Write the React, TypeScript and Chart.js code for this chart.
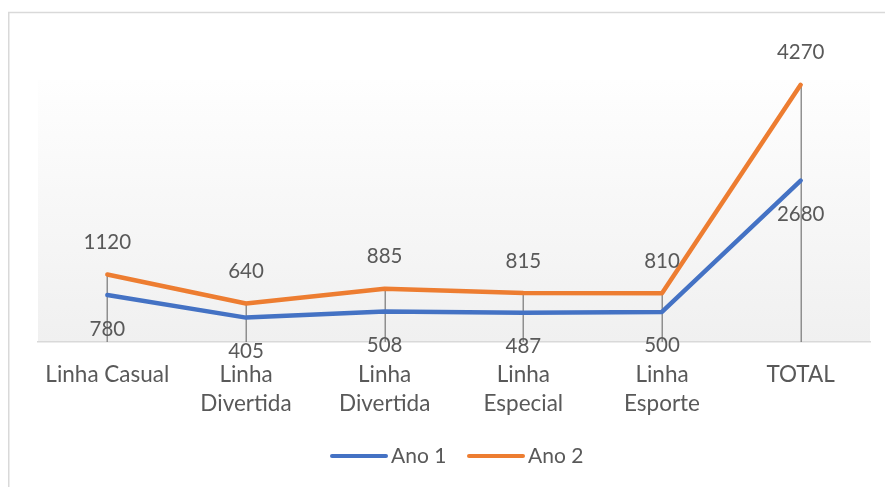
import React, { useEffect, useRef } from "react";
import { Chart, registerables } from "chart.js";

Chart.register(...registerables);

const categories: (string | string[])[] = [
  "Linha Casual",
  ["Linha", "Divertida"],
  ["Linha", "Divertida"],
  ["Linha", "Especial"],
  ["Linha", "Esporte"],
  "TOTAL",
];
const ano1 = [780, 405, 508, 487, 500, 2680];
const ano2 = [1120, 640, 885, 815, 810, 4270];
const seriesNames = ["Ano 1", "Ano 2"];
const seriesColors = ["#4472c4", "#ed7d31"];

const FONT = "Lato, 'Open Sans', sans-serif";
const TEXT = "#595959";

const decorPlugin = {
  id: "decor",
  beforeDraw(chart: any) {
    const { ctx, chartArea } = chart;
    ctx.save();
    ctx.fillStyle = "#ffffff";
    ctx.fillRect(0, 0, chart.width, chart.height);
    ctx.strokeStyle = "#d9d9d9";
    ctx.lineWidth = 1.5;
    ctx.strokeRect(8.75, 12.5, 1000, 1000);
    const g = ctx.createLinearGradient(0, chartArea.top, 0, chartArea.bottom);
    g.addColorStop(0, "#fefefe");
    g.addColorStop(1, "#f0f0f0");
    ctx.fillStyle = g;
    ctx.fillRect(chartArea.left, chartArea.top, chartArea.right - chartArea.left, chartArea.bottom - chartArea.top);
    ctx.restore();
  },
  beforeDatasetsDraw(chart: any) {
    const { ctx, chartArea } = chart;
    const m0 = chart.getDatasetMeta(0).data;
    const m1 = chart.getDatasetMeta(1).data;
    ctx.save();
    ctx.strokeStyle = "rgba(110,110,110,0.75)";
    ctx.lineWidth = 1.5;
    for (let i = 0; i < m0.length; i++) {
      const top = Math.min(m0[i].y, m1[i].y);
      const x = Math.round(m0[i].x) + 0.25;
      ctx.beginPath();
      ctx.moveTo(x, top);
      ctx.lineTo(x, chartArea.bottom);
      ctx.stroke();
    }
    ctx.restore();
  },
  afterDatasetsDraw(chart: any) {
    const { ctx } = chart;
    ctx.save();
    ctx.font = `20.5px ${FONT}`;
    ctx.fillStyle = TEXT;
    ctx.textAlign = "center";
    ctx.textBaseline = "middle";
    const m0 = chart.getDatasetMeta(0).data;
    const m1 = chart.getDatasetMeta(1).data;
    for (let i = 0; i < m0.length; i++) {
      ctx.fillText(String(ano1[i]), m0[i].x, m0[i].y + 34);
      ctx.fillText(String(ano2[i]), m1[i].x, m1[i].y - 32);
    }
    // legend
    const items = [
      { x1: 332, x2: 386, tx: 391 },
      { x1: 469, x2: 523, tx: 528 },
    ];
    const ly = 456;
    ctx.font = `21px ${FONT}`;
    ctx.textAlign = "left";
    items.forEach((it, k) => {
      ctx.strokeStyle = seriesColors[k];
      ctx.lineWidth = 4;
      ctx.lineCap = "round";
      ctx.beginPath();
      ctx.moveTo(it.x1, ly);
      ctx.lineTo(it.x2, ly);
      ctx.stroke();
      ctx.fillText(seriesNames[k], it.tx, ly);
    });
    ctx.restore();
  },
};

export default function App() {
  const ref = useRef<HTMLCanvasElement>(null);
  useEffect(() => {
    document.body.style.margin = "0";
    const chart = new Chart(ref.current!, {
      type: "line",
      data: {
        labels: categories,
        datasets: [
          {
            label: seriesNames[0],
            data: ano1,
            borderColor: seriesColors[0],
            backgroundColor: seriesColors[0],
            borderWidth: 4.5,
            pointRadius: 0,
            borderJoinStyle: "round",
            borderCapStyle: "round",
            tension: 0,
          },
          {
            label: seriesNames[1],
            data: ano2,
            borderColor: seriesColors[1],
            backgroundColor: seriesColors[1],
            borderWidth: 4.5,
            pointRadius: 0,
            borderJoinStyle: "round",
            borderCapStyle: "round",
            tension: 0,
          },
        ],
      },
      options: {
        animation: false,
        responsive: false,
        maintainAspectRatio: false,
        layout: { padding: { top: 80, left: 38, right: 15, bottom: 0 } },
        plugins: { legend: { display: false }, tooltip: { enabled: false } },
        scales: {
          x: {
            offset: true,
            grid: { display: false },
            border: { display: true, color: "#d9d9d9", width: 1.5 },
            ticks: {
              color: TEXT,
              font: { family: FONT, size: 22.5, lineHeight: "29px" },
              padding: 10,
              maxRotation: 0,
              autoSkip: false,
            },
            afterFit: (scale: any) => {
              scale.height = 145;
            },
          },
          y: { display: false, min: 0, max: 4350 },
        },
      },
      plugins: [decorPlugin],
    });
    return () => chart.destroy();
  }, []);
  return (
    <div style={{ position: "fixed", left: 0, top: 0, width: 885, height: 487 }}>
      <canvas ref={ref} width={885} height={487} style={{ width: 885, height: 487, display: "block" }} />
    </div>
  );
}
